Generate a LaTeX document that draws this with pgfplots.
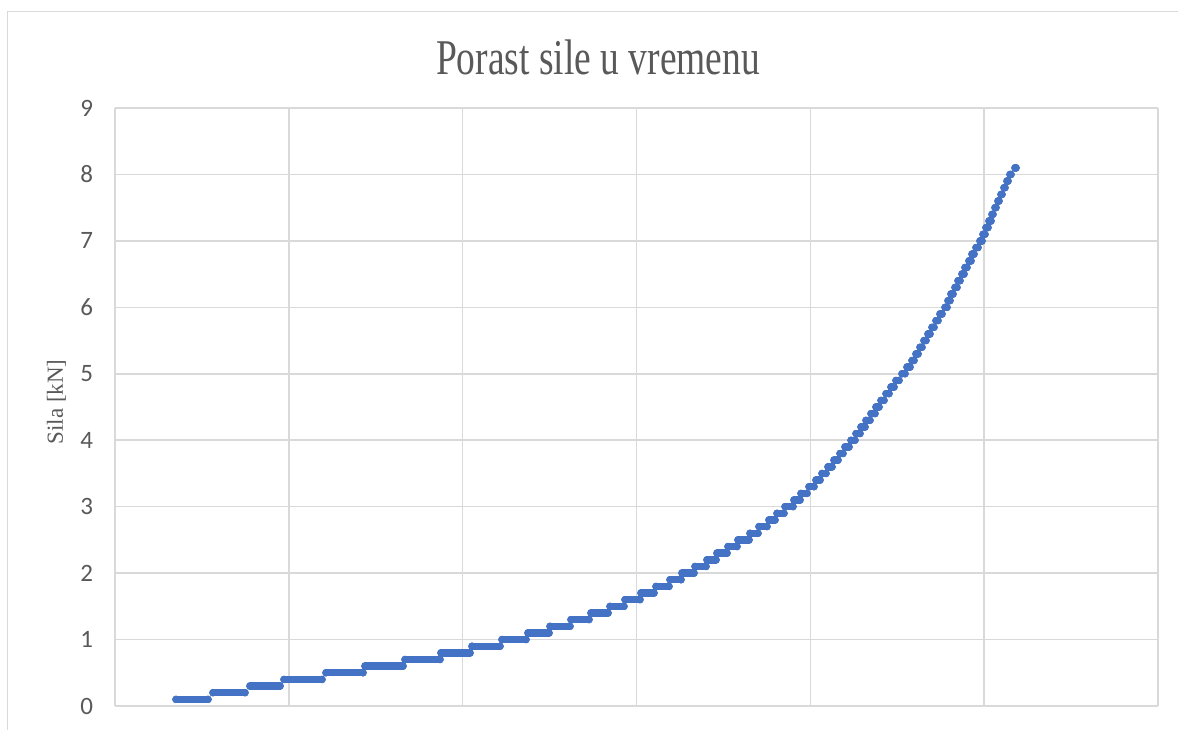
\documentclass[border=0pt]{standalone}
\usepackage{pgfplots}
\usepackage{pgfplotstable}
\pgfplotsset{compat=1.18}
\usepackage{fontspec}
\setmainfont{Liberation Serif}
\newfontfamily\carlito{Carlito}
\newfontfamily\titlefont[FakeStretch=0.75]{Liberation Serif}
\definecolor{gridgray}{HTML}{D9D9D9}
\definecolor{labelgray}{HTML}{595959}
\definecolor{serieblue}{HTML}{4472C4}

\pgfplotstableread{
x y
61 0.1
93 0.1
nan nan
98 0.2
130 0.2
nan nan
135 0.3
165 0.3
nan nan
169 0.4
207 0.4
nan nan
211 0.5
248 0.5
nan nan
250 0.6
288 0.6
nan nan
290 0.7
325 0.7
nan nan
326 0.8
355 0.8
nan nan
357 0.9
385 0.9
nan nan
387 1.0
411 1.0
nan nan
413 1.1
434 1.1
nan nan
435 1.2
455 1.2
nan nan
456 1.3
474 1.3
nan nan
476 1.4
493 1.4
nan nan
495 1.5
509 1.5
nan nan
510 1.6
525 1.6
nan nan
526 1.7
539 1.7
nan nan
541 1.8
554 1.8
nan nan
555 1.9
566 1.9
nan nan
567 2.0
579 2.0
nan nan
580 2.1
591 2.1
nan nan
592 2.2
601 2.2
nan nan
602 2.3
612 2.3
nan nan
613 2.4
622 2.4
nan nan
623 2.5
634 2.5
nan nan
635 2.6
643 2.6
nan nan
644 2.7
652 2.7
nan nan
654 2.8
660 2.8
nan nan
662 2.9
669 2.9
nan nan
670 3.0
678 3.0
nan nan
679 3.1
685 3.1
nan nan
686 3.2
692 3.2
nan nan
694 3.3
699 3.3
nan nan
701 3.4
705 3.4
nan nan
707 3.5
711 3.5
nan nan
713 3.6
717 3.6
nan nan
719 3.7
723 3.7
nan nan
725 3.8
728 3.8
nan nan
730 3.9
734 3.9
nan nan
736 4.0
740 4.0
nan nan
741 4.1
745 4.1
nan nan
746 4.2
750 4.2
nan nan
751 4.3
755 4.3
nan nan
756 4.4
760 4.4
nan nan
761 4.5
764 4.5
nan nan
766 4.6
769 4.6
nan nan
771 4.7
774 4.7
nan nan
776 4.8
779 4.8
nan nan
781 4.9
784 4.9
nan nan
787 5.0
790 5.0
nan nan
792 5.1
795 5.1
nan nan
797 5.2
799 5.2
nan nan
801 5.3
803 5.3
nan nan
805 5.4
807 5.4
nan nan
809 5.5
811 5.5
nan nan
813 5.6
815 5.6
nan nan
817 5.7
819 5.7
nan nan
821 5.8
823 5.8
nan nan
825 5.9
827 5.9
nan nan
830 6.0
832 6.0
nan nan
833 6.1
835 6.1
nan nan
836 6.2
838 6.2
nan nan
840 6.3
842 6.3
nan nan
843 6.4
845 6.4
nan nan
847 6.5
849 6.5
nan nan
850 6.6
852 6.6
nan nan
854 6.7
856 6.7
nan nan
857 6.8
859 6.8
nan nan
861 6.9
863 6.9
nan nan
865 7.0
867 7.0
nan nan
868 7.1
870 7.1
nan nan
871 7.2
873 7.2
nan nan
874 7.3
876 7.3
nan nan
877 7.4
878 7.4
nan nan
880 7.5
881 7.5
nan nan
883 7.6
884 7.6
nan nan
886 7.7
887 7.7
nan nan
889 7.8
890 7.8
nan nan
892 7.9
893 7.9
nan nan
895 8.0
896 8.0
nan nan
900 8.1
901 8.1
}\forcedata

\begin{document}
\begin{tikzpicture}
\begin{axis}[
  at={(0pt,0pt)}, anchor=south west,
  scale only axis, width=521.5pt, height=299pt,
  xmin=0, xmax=1043, ymin=0, ymax=9,
  xtick={0,173.83,347.67,521.5,695.33,869.17,1043},
  xticklabels={},
  ytick={0,1,2,3,4,5,6,7,8,9},
  grid=major,
  major grid style={draw=gridgray, line width=0.75pt},
  axis line style={draw=none},
  tick style={draw=none},
  yticklabel style={font=\carlito\fontsize{12.5pt}{14pt}\selectfont, text=labelgray, xshift=-7.5pt},
  /pgf/number format/assume math mode=true,
  unbounded coords=jump,
  clip=false,
]
\addplot[color=serieblue, line width=3.7pt, line cap=round, mark=*, mark size=1.75pt,
  mark options={fill=serieblue, draw=serieblue, line width=0.3pt}] table[x=x, y=y] {\forcedata};
\end{axis}
\draw[gridgray, line width=0.5pt] (-53.5pt,-12pt) -- (-53.5pt,347pt) -- (531.5pt,347pt);
\node[anchor=base, inner sep=0pt, text=labelgray, font=\titlefont\fontsize{25pt}{30pt}\selectfont] at (241.5pt,316pt) {Porast sile u vremenu};
\node[rotate=90, anchor=base, inner sep=0pt, text=labelgray, font=\fontsize{11.5pt}{14pt}\selectfont] at (-26pt,152pt) {Sila [kN]};
\pgfresetboundingbox
\path (-57.5pt,-12pt) rectangle (531.5pt,353pt);
\end{tikzpicture}
\end{document}
